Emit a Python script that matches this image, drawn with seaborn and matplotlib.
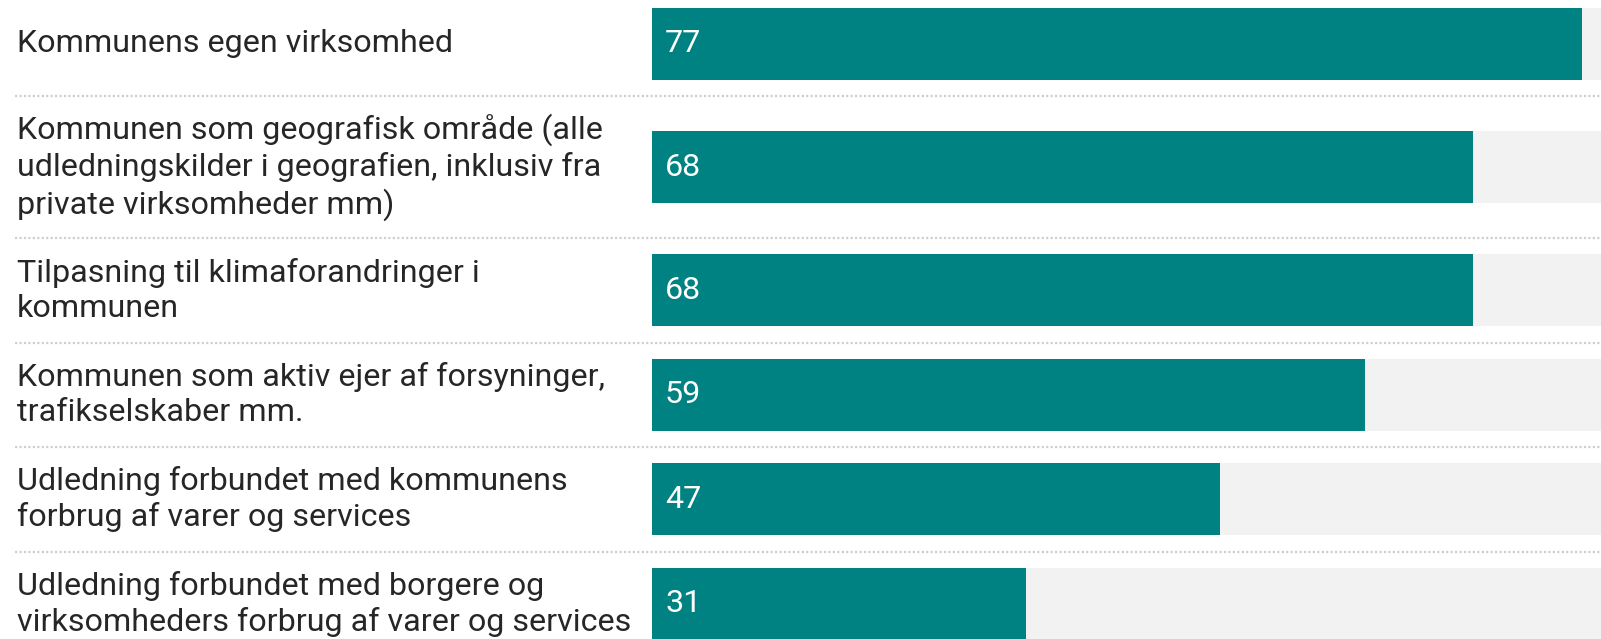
import numpy as np
import pandas as pd
import seaborn as sns
import matplotlib.pyplot as plt
from matplotlib import transforms

labels = [
    "Kommunens egen virksomhed",
    "Kommunen som geografisk område (alle\nudledningskilder i geografien, inklusiv fra\nprivate virksomheder mm)",
    "Tilpasning til klimaforandringer i\nkommunen",
    "Kommunen som aktiv ejer af forsyninger,\ntrafikselskaber mm.",
    "Udledning forbundet med kommunens\nforbrug af varer og services",
    "Udledning forbundet med borgere og\nvirksomheders forbrug af varer og services",
]
values = [77, 68, 68, 59, 47, 31]
track_max = 100

W, H = 1601, 639
sns.set_theme(style="white")
plt.rcParams['font.family'] = ['Roboto', 'DejaVu Sans']

# row layout in pixels: a third text line makes the row one line taller
row_h = 104.5
line_h = 37.5
n_lines = [lab.count("\n") + 1 for lab in labels]
heights = [row_h + line_h * max(0, n - 2) for n in n_lines]
edges = np.concatenate([[-8.5], -8.5 + np.cumsum(heights)])
centers = (edges[:-1] + edges[1:]) / 2
bar_px = 72

x0 = 652
px_per_unit = 12.08

fig = plt.figure(figsize=(W / 100, H / 100), dpi=100)
ax = fig.add_axes([x0 / W, 0, (W - x0) / W, 1])

df = pd.DataFrame({"label": labels, "value": values, "pos": centers, "track": track_max})
width = bar_px / np.diff(centers).min()

sns.barplot(data=df, x="track", y="pos", orient="y", native_scale=True,
            color="#f2f2f2", saturation=1, width=width, linewidth=0, ax=ax)
sns.barplot(data=df, x="value", y="pos", orient="y", native_scale=True,
            color="#008282", saturation=1, width=width, linewidth=0, ax=ax)

blend = transforms.blended_transform_factory(fig.transFigure, ax.transData)
for lab, v, c in zip(labels, values, centers):
    ax.text(17 / W, c, lab, transform=blend, va="center", ha="left",
            fontsize=23.2, color="#262626", linespacing=1.25, clip_on=False)
    ax.text(13 / px_per_unit, c, str(v), va="center", ha="left",
            fontsize=23.2, color="white")

for e in edges[1:-1]:
    ax.plot([15 / W, 1], [e, e], transform=blend, color="#cfcfcf", lw=1.6,
            ls=(0, (1, 1)), clip_on=False)

ax.set_xlim(0, (W - x0) / px_per_unit)
ax.set_ylim(H, 0)
ax.axis("off")

fig.savefig("out.png", dpi=100)
